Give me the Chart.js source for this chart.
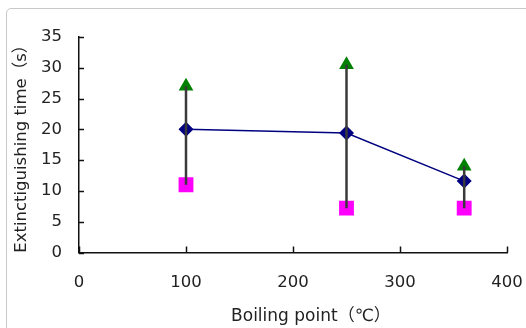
<!DOCTYPE html>
<html>
<head>
<meta charset="utf-8">
<script src="https://cdn.jsdelivr.net/npm/chart.js@4"></script>
<style>
  html, body { margin: 0; padding: 0; background: #fff; }
  #wrap { position: relative; width: 526px; height: 328px; overflow: hidden; }
  #frame { position: absolute; left: 6px; top: 8px; width: 600px; height: 400px;
           border: 1px solid #c8c8c8; border-radius: 5px; pointer-events: none; }
  canvas { position: absolute; left: 0; top: 0; }
</style>
</head>
<body>
<div id="wrap">
  <div id="frame"></div>
  <canvas id="chart" width="526" height="328"></canvas>
</div>
<script>
// boiling point of each sample (°C)
const boilingPoint = [100, 250, 360];
// extinguishing time (s): longest, average, shortest
const maxTime = [27, 30.5, 14];
const meanTime = [20, 19.4, 11.6];
const minTime = [11, 7.2, 7.2];
const xTicks = [0, 100, 200, 300, 400];
const yTicks = [0, 5, 10, 15, 20, 25, 30, 35];

const family = "'DejaVu Sans', 'Noto Sans CJK JP', sans-serif";
const font = { family: family, size: 16.5 };
const textColor = '#222';

const pts = (ys) => boilingPoint.map((x, i) => ({ x: x, y: ys[i] }));

// vertical range line for every sample, from min to max
const rangeSets = boilingPoint.map((x, i) => ({
    data: [{ x: x, y: minTime[i] }, { x: x, y: maxTime[i] }],
    showLine: true,
    borderColor: '#3a3a3a',
    borderWidth: 2.5,
    pointRadius: 0,
    order: 0
}));

// inward tick marks, like the original spreadsheet chart
const innerTicks = {
    id: 'innerTicks',
    afterDraw(chart) {
        const ctx = chart.ctx;
        const xs = chart.scales.x, ys = chart.scales.y;
        ctx.save();
        ctx.strokeStyle = '#111';
        ctx.lineWidth = 1.5;
        ctx.beginPath();
        xTicks.forEach(v => {
            const px = Math.round(xs.getPixelForValue(v)) + 0.5;
            ctx.moveTo(px, ys.bottom);
            ctx.lineTo(px, ys.bottom - 6);
        });
        yTicks.forEach(v => {
            const py = Math.round(ys.getPixelForValue(v)) + 0.5;
            ctx.moveTo(xs.left, py);
            ctx.lineTo(xs.left + 5, py);
        });
        ctx.stroke();
        ctx.restore();
    }
};

new Chart(document.getElementById('chart'), {
    type: 'scatter',
    data: {
        datasets: [
            ...rangeSets,
            {
                data: pts(meanTime),
                showLine: true,
                borderColor: '#000080',
                borderWidth: 1.5,
                backgroundColor: '#000080',
                pointStyle: 'rectRot',
                pointRadius: 7.5,
                pointBorderWidth: 0,
                order: 1
            },
            {
                data: pts(maxTime),
                backgroundColor: '#008000',
                borderColor: '#008000',
                pointStyle: 'triangle',
                pointRadius: 8.5,
                pointBorderWidth: 0,
                order: 2
            },
            {
                data: pts(minTime),
                backgroundColor: '#ff00ff',
                borderColor: '#ff00ff',
                pointStyle: 'rect',
                pointRadius: 10.5,
                pointBorderWidth: 0,
                order: 3
            }
        ]
    },
    options: {
        responsive: false,
        animation: false,
        layout: { padding: { left: 0, top: 37, right: 19, bottom: 0 } },
        plugins: { legend: { display: false }, tooltip: { enabled: false } },
        scales: {
            x: {
                type: 'linear',
                min: 0,
                max: 400,
                afterBuildTicks: (s) => { s.ticks = xTicks.map(v => ({ value: v })); },
                afterFit: (s) => { s.height = 75.5; s.paddingLeft = 0; s.paddingRight = 0; },
                grid: { display: true, drawOnChartArea: false, drawTicks: false },
                border: { color: '#111', width: 1.5 },
                ticks: { font: font, color: textColor, padding: 20, maxRotation: 0 },
                title: { display: true, text: '      \u2009Boiling point（℃）',
                         font: { family: family, size: 17 }, color: textColor,
                         padding: { top: 0, bottom: 1 } }
            },
            y: {
                min: 0,
                max: 35,
                afterBuildTicks: (s) => { s.ticks = yTicks.map(v => ({ value: v })); },
                afterFit: (s) => { s.width = 79; s.paddingTop = 0; s.paddingBottom = 0; },
                grid: { display: true, drawOnChartArea: false, drawTicks: false },
                border: { color: '#111', width: 1.5 },
                ticks: { font: font, color: textColor, padding: 17 },
                title: { display: true, text: 'Extinctiguishing time（s）', font: font, color: textColor,
                         padding: { top: 12, bottom: 0 } }
            }
        }
    },
    plugins: [innerTicks]
});
</script>
</body>
</html>
